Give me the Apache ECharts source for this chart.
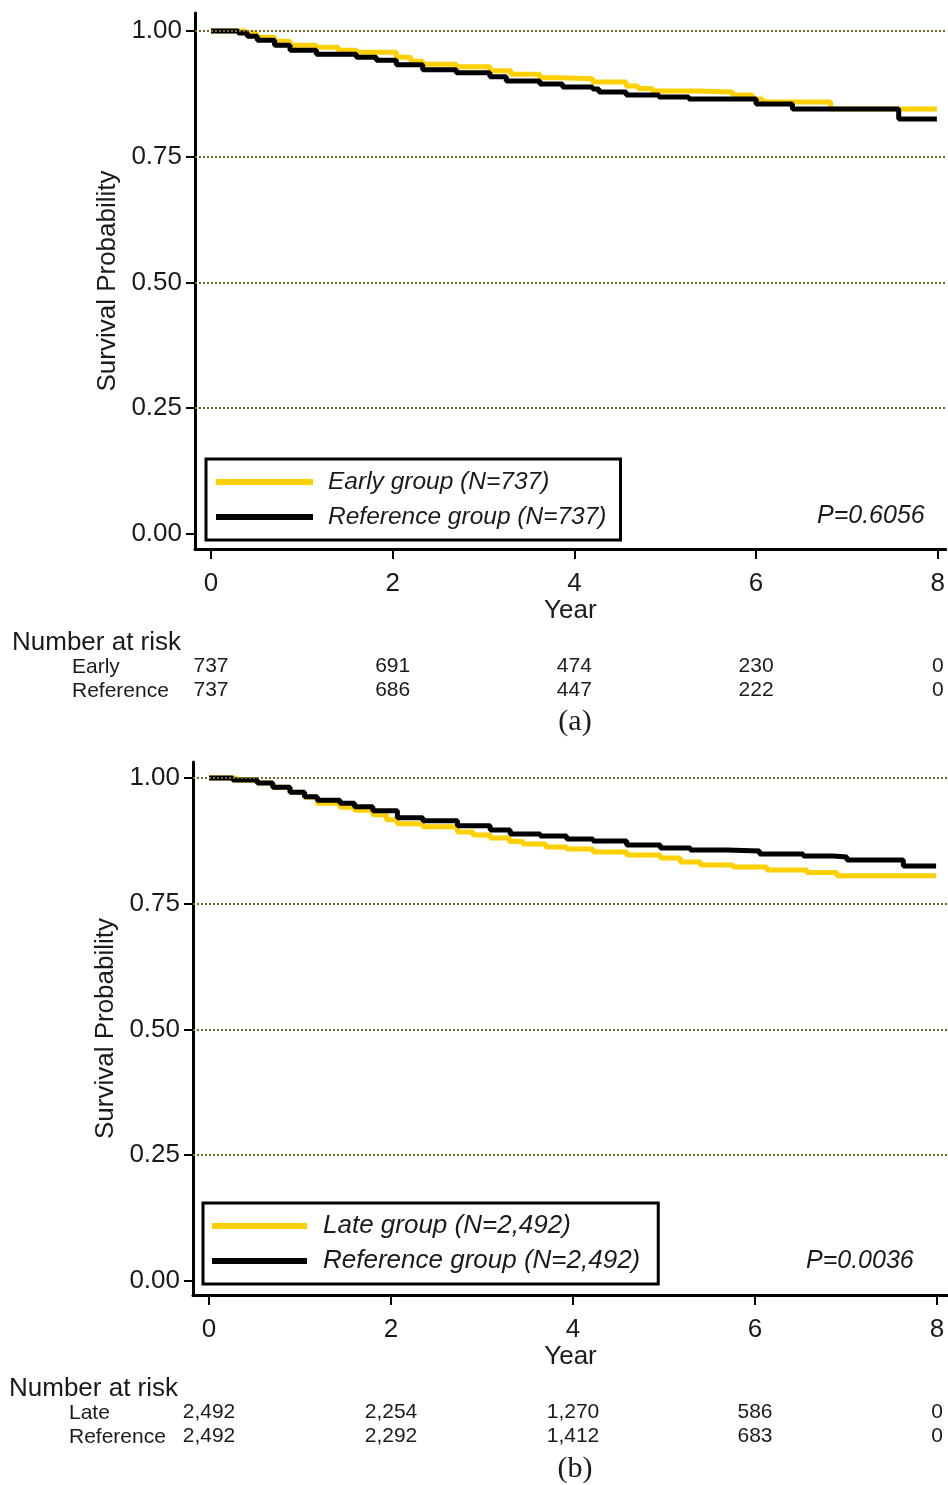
<!DOCTYPE html>
<html>
<head>
<meta charset="utf-8">
<script src="https://cdn.jsdelivr.net/npm/echarts@6/dist/echarts.min.js"></script>
<style>
html,body{margin:0;padding:0;background:#fff;}
#chart{width:948px;height:1485px;}
</style>
</head>
<body>
<div id="chart"></div>
<script>
// ---- data ----
const xTicks = [0, 2, 4, 6, 8];
const yTicks = [0, 0.25, 0.5, 0.75, 1];
const gridTicks = [0.25, 0.5, 0.75, 1];

// Panel (a): Kaplan-Meier steps [year, survival]
const earlyA = [[0,1],[0.38,0.996],[0.5,0.988],[0.7,0.980],[0.87,0.972],[1.16,0.968],[1.4,0.962],[1.6,0.958],[2.04,0.948],[2.2,0.940],[2.33,0.934],[2.7,0.929],[3.07,0.921],[3.3,0.914],[3.62,0.907],[3.84,0.905],[4.2,0.899],[4.57,0.891],[4.7,0.886],[4.86,0.881],[5.34,0.879],[5.74,0.873],[5.96,0.865],[6.07,0.859],[6.82,0.845],[7.99,0.845]];
const refA = [[0,1],[0.3,0.996],[0.4,0.99],[0.51,0.982],[0.7,0.972],[0.87,0.962],[1.16,0.954],[1.6,0.948],[1.82,0.942],[2.04,0.933],[2.33,0.923],[2.7,0.917],[3.07,0.909],[3.25,0.901],[3.62,0.895],[3.87,0.889],[4.2,0.885],[4.27,0.879],[4.57,0.873],[4.93,0.869],[5.26,0.865],[6.0,0.855],[6.4,0.845],[7.57,0.825],[7.99,0.825]];
// Panel (b)
const lateB = [[0,1],[0.3,0.996],[0.53,0.99],[0.7,0.982],[0.89,0.972],[1.05,0.962],[1.19,0.950],[1.44,0.942],[1.6,0.936],[1.80,0.927],[1.95,0.917],[2.07,0.909],[2.35,0.903],[2.73,0.893],[2.9,0.887],[3.09,0.881],[3.3,0.874],[3.45,0.869],[3.7,0.863],[3.93,0.859],[4.22,0.853],[4.59,0.847],[4.96,0.841],[5.18,0.833],[5.40,0.827],[5.76,0.823],[6.13,0.817],[6.57,0.812],[6.90,0.806],[7.99,0.806]];
const refB = [[0,1],[0.26,0.996],[0.53,0.99],[0.7,0.982],[0.89,0.972],[1.05,0.963],[1.19,0.956],[1.44,0.950],[1.6,0.943],[1.80,0.935],[2.07,0.921],[2.35,0.915],[2.73,0.905],[3.09,0.897],[3.31,0.889],[3.64,0.885],[3.93,0.879],[4.22,0.875],[4.59,0.867],[4.96,0.861],[5.29,0.857],[5.69,0.855],[6.05,0.849],[6.53,0.845],[6.86,0.843],[7.01,0.837],[7.63,0.825],[7.99,0.825]];

// Number at risk
const riskEarlyA = [737, 691, 474, 230, 0];
const riskRefA = [737, 686, 447, 222, 0];
const riskLateB = [2492, 2254, 1270, 586, 0];
const riskRefB = [2492, 2292, 1412, 683, 0];

const namesA = ['Early group (N=737)', 'Reference group (N=737)'];
const namesB = ['Late group (N=2,492)', 'Reference group (N=2,492)'];
const pA = 'P=0.6056';
const pB = 'P=0.0036';

// ---- styles ----
const YELLOW = '#FFD000';
const BLACK = '#000000';
const TXT = '#1a1a1a';
const SANS = '"Liberation Sans", Arial, sans-serif';
const SERIF = '"Liberation Serif", "Times New Roman", serif';
const GRIDC = '#74672c';

const fmt = v => v.toLocaleString('en-US');

function mainX(grid, min, max) {
  return {
    type: 'value', gridIndex: grid, min: min, max: max, position: 'bottom',
    name: 'Year', nameLocation: 'middle', nameGap: 43,
    nameTextStyle: { fontFamily: SANS, fontSize: 26, color: TXT },
    axisLine: { show: true, onZero: false, lineStyle: { color: BLACK, width: 3 } },
    axisTick: { show: true, customValues: xTicks, length: 10, lineStyle: { color: BLACK, width: 2 } },
    axisLabel: { customValues: xTicks, fontFamily: SANS, fontSize: 26, color: TXT, margin: 22, formatter: v => String(v) },
    splitLine: { show: false }
  };
}
function riskX(grid, min, max, offset, arr) {
  return {
    type: 'value', gridIndex: grid, min: min, max: max, position: 'bottom', offset: offset,
    axisLine: { show: false }, axisTick: { show: false }, splitLine: { show: false },
    axisLabel: { customValues: xTicks, fontFamily: SANS, fontSize: 21, color: TXT, margin: 0,
      verticalAlign: 'middle', formatter: v => fmt(arr[xTicks.indexOf(v)]) }
  };
}
function mainY(grid, min, max) {
  return {
    type: 'value', gridIndex: grid, min: min, max: max,
    name: 'Survival Probability', nameLocation: 'middle', nameGap: 74, nameRotate: 90,
    nameTextStyle: { fontFamily: SANS, fontSize: 26, color: TXT },
    axisLine: { show: true, onZero: false, lineStyle: { color: BLACK, width: 3 } },
    axisTick: { show: true, customValues: yTicks, length: 9, lineStyle: { color: BLACK, width: 2 } },
    axisLabel: { customValues: yTicks, fontFamily: SANS, fontSize: 26, color: TXT, margin: 13,
      verticalAlign: 'middle', lineHeight: 26, padding: [8, 0, 0, 0], formatter: v => v.toFixed(2) },
    splitLine: { show: false }
  };
}
function curve(name, data, color, xi, yi, z) {
  return {
    type: 'line', name: name, data: data, step: 'end', xAxisIndex: xi, yAxisIndex: yi,
    color: color, showSymbol: false, symbol: 'none', z: z, silent: true,
    lineStyle: { color: color, width: 5 }, animation: false
  };
}
function gridLines(xi, yi) {
  return {
    type: 'line', data: [], xAxisIndex: xi, yAxisIndex: yi, z: 1, silent: true, animation: false,
    markLine: {
      silent: true, symbol: ['none', 'none'], label: { show: false }, animation: false,
      lineStyle: { color: GRIDC, type: [2, 2], width: 2 },
      emphasis: { disabled: true },
      data: gridTicks.map(v => ({ yAxis: v }))
    }
  };
}
function legendCfg(names, left, top, fs, itemW, pad, textPadL) {
  return {
    data: names, orient: 'vertical', left: left, top: top, selectedMode: false,
    icon: 'rect', itemWidth: itemW, itemHeight: 6, itemGap: 7,
    borderColor: BLACK, borderWidth: 3, padding: pad, backgroundColor: '#fff',
    textStyle: { fontFamily: SANS, fontStyle: 'italic', fontSize: fs, color: TXT, lineHeight: 28, padding: [0, 0, 0, textPadL] }
  };
}

const chart = echarts.init(document.getElementById('chart'), null, { renderer: 'canvas' });
chart.setOption({
  animation: false,
  backgroundColor: '#fff',
  grid: [
    { left: 195, top: 13, width: 753, height: 536 },
    { left: 193, top: 762, width: 755, height: 533 }
  ],
  xAxis: [
    mainX(0, -0.176, 8.088),
    riskX(0, -0.176, 8.088, 117, riskEarlyA),
    riskX(0, -0.176, 8.088, 141, riskRefA),
    mainX(1, -0.176, 8.121),
    riskX(1, -0.176, 8.121, 117, riskLateB),
    riskX(1, -0.176, 8.121, 141, riskRefB)
  ],
  yAxis: [
    mainY(0, -0.030, 1.036),
    mainY(1, -0.028, 1.032)
  ],
  legend: [
    legendCfg(namesA, 206, 459, 24.5, 97, [9, 14, 9, 10], 10),
    legendCfg(namesB, 203, 1203, 26, 95, [9, 18, 9, 9], 11)
  ],
  series: [
    gridLines(0, 0),
    curve(namesA[0], earlyA, YELLOW, 0, 0, 3),
    curve(namesA[1], refA, BLACK, 0, 0, 4),
    gridLines(3, 1),
    curve(namesB[0], lateB, YELLOW, 3, 1, 3),
    curve(namesB[1], refB, BLACK, 3, 1, 4)
  ],
  graphic: [
    { type: 'text', left: 817, top: 504, style: { text: pA, fontFamily: SANS, fontStyle: 'italic', fontSize: 25, fill: TXT } },
    { type: 'text', left: 12, top: 630, style: { text: 'Number at risk', fontFamily: SANS, fontSize: 26, fill: TXT } },
    { type: 'text', left: 72, top: 657, style: { text: 'Early', fontFamily: SANS, fontSize: 21, fill: TXT } },
    { type: 'text', left: 72, top: 681, style: { text: 'Reference', fontFamily: SANS, fontSize: 21, fill: TXT } },
    { type: 'text', x: 575, y: 722, style: { text: '(a)', fontFamily: SERIF, fontSize: 30, fill: TXT, align: 'center', verticalAlign: 'middle' } },

    { type: 'text', left: 806, top: 1249, style: { text: pB, fontFamily: SANS, fontStyle: 'italic', fontSize: 25, fill: TXT } },
    { type: 'text', left: 9, top: 1376, style: { text: 'Number at risk', fontFamily: SANS, fontSize: 26, fill: TXT } },
    { type: 'text', left: 69, top: 1403, style: { text: 'Late', fontFamily: SANS, fontSize: 21, fill: TXT } },
    { type: 'text', left: 69, top: 1427, style: { text: 'Reference', fontFamily: SANS, fontSize: 21, fill: TXT } },
    { type: 'text', x: 575, y: 1469, style: { text: '(b)', fontFamily: SERIF, fontSize: 30, fill: TXT, align: 'center', verticalAlign: 'middle' } }
  ]
});
</script>
</body>
</html>
